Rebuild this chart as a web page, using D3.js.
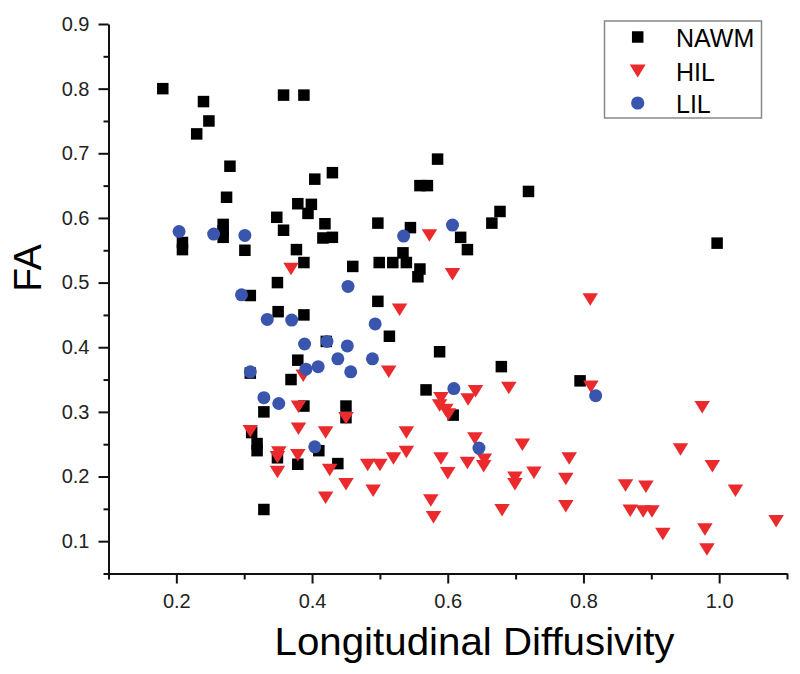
<!DOCTYPE html>
<html>
<head>
<meta charset="utf-8">
<script src="https://cdn.jsdelivr.net/npm/d3@7"></script>
<style>
  html, body { margin: 0; padding: 0; background: #fff; }
  svg { display: block; font-family: "Liberation Sans", Arial, sans-serif; }
</style>
</head>
<body>
<svg id="chart" width="800" height="674"></svg>
<script>
// ---- data (Longitudinal Diffusivity, FA) ----
const seriesNames = ["NAWM", "HIL", "LIL"];

const nawmX = [0.18,0.24,0.248,0.23,0.358,0.388,0.279,0.274,0.404,0.43,0.379,0.399,0.394,0.348,0.358,0.419,0.416,0.43,0.269,0.269,0.269,0.209,0.209,0.301,0.377,0.388,0.46,0.497,0.499,0.519,0.539,0.534,0.545,0.559,0.556,0.349,0.309,0.497,0.585,0.559,0.570,0.719,0.677,0.665,0.619,0.629,0.997,0.350,0.388,0.514,0.309,0.379,0.369,0.388,0.450,0.450,0.329,0.311,0.319,0.319,0.349,0.379,0.410,0.438,0.329,0.421,0.588,0.679,0.568,0.795,0.608];
const nawmY = [0.80,0.78,0.75,0.73,0.79,0.79,0.68,0.632,0.66,0.67,0.622,0.621,0.607,0.601,0.581,0.591,0.569,0.570,0.59,0.58,0.57,0.562,0.551,0.550,0.551,0.531,0.525,0.592,0.531,0.531,0.531,0.546,0.585,0.521,0.509,0.500,0.480,0.471,0.691,0.650,0.650,0.641,0.610,0.592,0.570,0.551,0.561,0.455,0.450,0.417,0.360,0.380,0.350,0.309,0.309,0.291,0.300,0.268,0.251,0.240,0.229,0.219,0.240,0.220,0.149,0.409,0.393,0.370,0.334,0.348,0.295];

const hilX = [0.369,0.573,0.607,0.810,0.529,0.309,0.387,0.380,0.380,0.420,0.450,0.351,0.349,0.379,0.349,0.426,0.420,0.450,0.482,0.500,0.490,0.520,0.513,0.690,0.811,0.641,0.630,0.590,0.588,0.597,0.601,0.539,0.539,0.640,0.710,0.590,0.600,0.629,0.654,0.653,0.699,0.699,0.727,0.779,0.774,0.774,0.575,0.579,0.680,0.862,0.892,0.869,0.888,0.901,0.917,0.975,0.943,0.990,1.024,1.084,0.979,0.982];
const hilY = [0.521,0.573,0.513,0.474,0.458,0.270,0.356,0.308,0.274,0.268,0.290,0.237,0.230,0.233,0.207,0.210,0.167,0.188,0.218,0.218,0.178,0.228,0.362,0.337,0.339,0.332,0.319,0.321,0.310,0.303,0.296,0.268,0.238,0.259,0.249,0.228,0.205,0.221,0.226,0.216,0.198,0.188,0.206,0.228,0.196,0.154,0.163,0.137,0.148,0.186,0.184,0.147,0.146,0.146,0.111,0.307,0.242,0.216,0.178,0.131,0.118,0.087];

const lilX = [0.204,0.255,0.301,0.453,0.296,0.535,0.607,0.334,0.370,0.389,0.422,0.452,0.493,0.309,0.391,0.409,0.438,0.457,0.489,0.329,0.351,0.404,0.609,0.818,0.646];
const lilY = [0.579,0.575,0.573,0.494,0.481,0.572,0.589,0.443,0.442,0.405,0.409,0.402,0.436,0.362,0.366,0.370,0.382,0.362,0.382,0.322,0.313,0.246,0.336,0.325,0.244];

const xMajorTicks = [0.2, 0.4, 0.6, 0.8, 1.0];
const xMinorTicks = [0.1, 0.3, 0.5, 0.7, 0.9, 1.1];
const yMajorTicks = [0.1, 0.2, 0.3, 0.4, 0.5, 0.6, 0.7, 0.8, 0.9];
const yMinorTicks = [0.05, 0.15, 0.25, 0.35, 0.45, 0.55, 0.65, 0.75, 0.85];
const xTitle = "Longitudinal Diffusivity";
const yTitle = "FA";

// ---- drawing ----
const svg = d3.select("#chart");
svg.append("rect").attr("width", 800).attr("height", 674).attr("fill", "#fff");

const x = d3.scaleLinear().domain([0.1, 1.1]).range([108.5, 787]);
const y = d3.scaleLinear().domain([0.05, 0.9]).range([573.5, 24]);

const colors = { NAWM: "#000000", HIL: "#ea2a2c", LIL: "#3a55ad" };

// axes
function styleAxis(g) {
  g.selectAll("path").attr("stroke", "#111").attr("stroke-width", 2);
  g.selectAll("line").attr("stroke", "#111").attr("stroke-width", 2);
  g.selectAll("text").attr("fill", "#222").style("font-size", "20px")
    .style("font-family", '"Liberation Sans", Arial, sans-serif');
}

const gx = svg.append("g").attr("transform", "translate(0,573.5)");
gx.call(d3.axisBottom(x).tickValues(xMinorTicks).tickSize(6).tickSizeOuter(0).tickFormat(""));
gx.call(styleAxis);
const gx2 = svg.append("g").attr("transform", "translate(0,573.5)");
gx2.call(d3.axisBottom(x).tickValues(xMajorTicks).tickSize(10).tickSizeOuter(0).tickPadding(10).tickFormat(d3.format(".1f")));
gx2.select(".domain").remove();
gx2.call(styleAxis);

const gy = svg.append("g").attr("transform", "translate(108.5,0)");
gy.call(d3.axisLeft(y).tickValues(yMinorTicks).tickSize(5).tickSizeOuter(0).tickFormat(""));
gy.call(styleAxis);
const gy2 = svg.append("g").attr("transform", "translate(108.5,0)");
gy2.call(d3.axisLeft(y).tickValues(yMajorTicks).tickSize(10).tickSizeOuter(0).tickPadding(9).tickFormat(d3.format(".1f")));
gy2.select(".domain").remove();
gy2.call(styleAxis);

// titles
svg.append("text")
  .attr("x", 474.5).attr("y", 655)
  .attr("text-anchor", "middle")
  .attr("textLength", 400).attr("lengthAdjust", "spacingAndGlyphs")
  .style("font-size", "38px").attr("fill", "#000")
  .text(xTitle);

svg.append("text")
  .attr("transform", "translate(41,268) rotate(-90)")
  .attr("text-anchor", "middle")
  .style("font-size", "39px").attr("fill", "#000")
  .text(yTitle);

// markers
const sq = 11.5;
const triW = 15.5, triH = 12.5;
const circR = 6.5;

function drawSquare(g, cx, cy, s, color) {
  g.append("rect").attr("x", cx - s / 2).attr("y", cy - s / 2)
    .attr("width", s).attr("height", s).attr("fill", color);
}
function drawTri(g, cx, cy, w, h, color) {
  g.append("path")
    .attr("d", `M${cx - w / 2},${cy - h / 2}L${cx + w / 2},${cy - h / 2}L${cx},${cy + h / 2}Z`)
    .attr("fill", color);
}
function drawCirc(g, cx, cy, r, color) {
  g.append("circle").attr("cx", cx).attr("cy", cy).attr("r", r).attr("fill", color);
}

const gN = svg.append("g");
nawmX.forEach((v, i) => drawSquare(gN, x(v), y(nawmY[i]), sq, colors.NAWM));
const gH = svg.append("g");
hilX.forEach((v, i) => drawTri(gH, x(v), y(hilY[i]), triW, triH, colors.HIL));
const gL = svg.append("g");
lilX.forEach((v, i) => drawCirc(gL, x(v), y(lilY[i]), circR, colors.LIL));

// legend
const lg = svg.append("g");
lg.append("rect").attr("x", 604.5).attr("y", 21).attr("width", 157).attr("height", 97)
  .attr("fill", "#fff").attr("stroke", "#888").attr("stroke-width", 1.5);
const rowsY = [37, 71, 103];
seriesNames.forEach((name, i) => {
  const cy = rowsY[i];
  if (name === "NAWM") drawSquare(lg, 637.7, cy, 11.5, colors.NAWM);
  if (name === "HIL") drawTri(lg, 637.7, cy, 16, 13, colors.HIL);
  if (name === "LIL") drawCirc(lg, 637.7, cy, 6.6, colors.LIL);
  lg.append("text").attr("x", 676).attr("y", cy + 9.5)
    .style("font-size", "25px").attr("fill", "#000").text(name);
});
</script>
</body>
</html>
